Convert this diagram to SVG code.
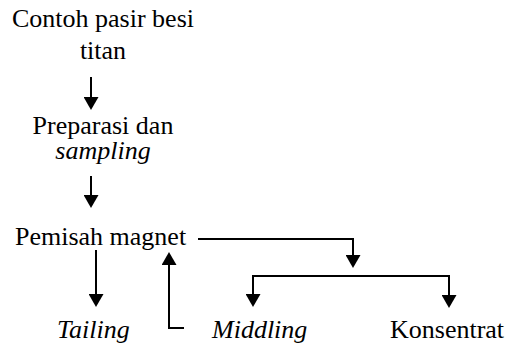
<svg xmlns="http://www.w3.org/2000/svg" width="507" height="346" viewBox="0 0 507 346">
<defs>
<marker id="ah" viewBox="0 0 13 15" markerWidth="13" markerHeight="15" refX="0" refY="7.5" orient="auto" markerUnits="userSpaceOnUse">
<path d="M0,0 L13,7.5 L0,15 z" fill="#000"/>
</marker>
</defs>
<rect width="507" height="346" fill="#fff"/>
<g id="n-contoh"><text font-family="Liberation Serif" font-size="26" text-anchor="middle" x="103" y="27">Contoh pasir besi</text><text font-family="Liberation Serif" font-size="26" text-anchor="middle" x="103" y="59">titan</text></g>
<g id="n-preparasi"><text font-family="Liberation Serif" font-size="26" text-anchor="middle" x="103" y="134">Preparasi dan</text><text font-family="Liberation Serif" font-size="26" font-style="italic" text-anchor="middle" x="103" y="159">sampling</text></g>
<g id="n-pemisah"><text font-family="Liberation Serif" font-size="26" x="15" y="245">Pemisah magnet</text></g>
<g id="n-tailing"><text font-family="Liberation Serif" font-size="26" font-style="italic" x="57" y="338">Tailing</text></g>
<g id="n-middling"><text font-family="Liberation Serif" font-size="26" font-style="italic" x="212" y="338">Middling</text></g>
<g id="n-konsentrat"><text font-family="Liberation Serif" font-size="26" x="390" y="338">Konsentrat</text></g>
<g id="connectors" stroke="#000" stroke-width="2" fill="none">
<path d="M91,77 V97" marker-end="url(#ah)"/>
<path d="M91,176 V195" marker-end="url(#ah)"/>
<path d="M96,250 V294" marker-end="url(#ah)"/>
<path d="M184,328 H169 V265" marker-end="url(#ah)"/>
<path d="M198,239 H353 V255" marker-end="url(#ah)"/>
<path d="M252,276 H450"/>
<path d="M253,275 V294" marker-end="url(#ah)"/>
<path d="M449,275 V295" marker-end="url(#ah)"/>
</g>
</svg>
